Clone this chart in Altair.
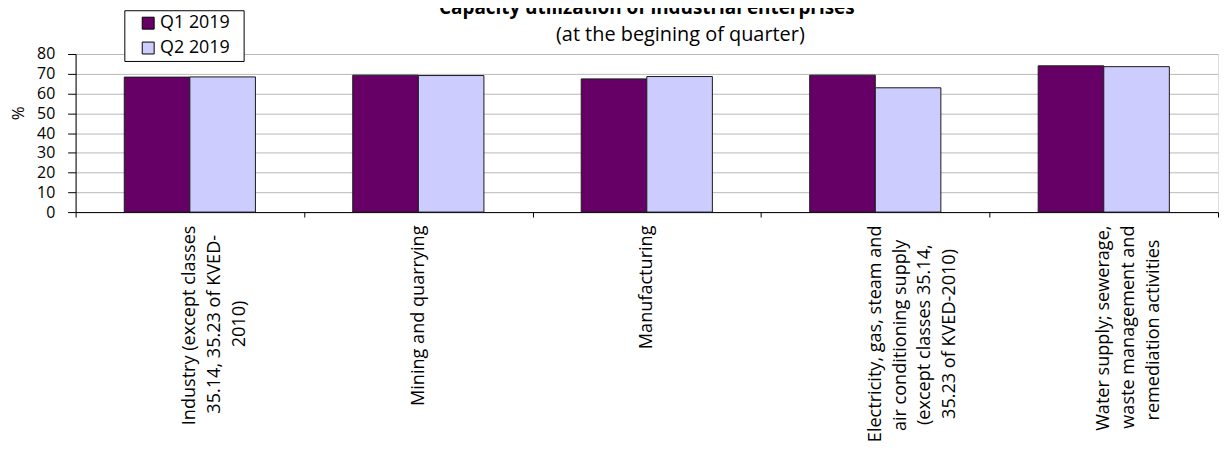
import altair as alt
import pandas as pd

categories = [
    "Industry (except classes 35.14, 35.23 of KVED-2010)",
    "Mining and quarrying",
    "Manufacturing",
    "Electricity, gas, steam and air conditioning supply (except classes 35.14, 35.23 of KVED-2010)",
    "Water supply; sewerage, waste management and remediation activities",
]
label_lines = [
    ["Industry (except classes", "35.14, 35.23 of KVED-", "2010)"],
    ["Mining and quarrying"],
    ["Manufacturing"],
    ["Electricity, gas, steam and", "air conditioning supply", "(except classes 35.14,", "35.23 of KVED-2010)"],
    ["Water supply; sewerage,", "waste management and", "remediation activities"],
]
series = ["Q1 2019", "Q2 2019"]
q1 = [68.3, 69.3, 67.4, 69.3, 74.0]
q2 = [68.4, 69.1, 68.6, 62.9, 73.6]
colors = ["#660066", "#CCCCFF"]

rows = []
for c, a, b in zip(categories, q1, q2):
    rows.append({"category": c, "series": series[0], "value": a})
    rows.append({"category": c, "series": series[1], "value": b})
df = pd.DataFrame(rows)

NB = "\u00a0"   # non-breaking space
ZW = "\u200b"   # zero-width char so that trimming keeps the spaces

# approximate advance widths of Open Sans (units per 2048 em), used only to
# centre the lines of each multi-line axis label like the original does
ADV = {" ": 532, "(": 608, ")": 608, ",": 500, "-": 659, ".": 545, ";": 545,
       "D": 1466, "E": 1147, "I": 551, "K": 1200, "M": 1825, "V": 1214, "W": 1855,
       "a": 1139, "c": 975, "d": 1255, "e": 1149, "f": 694, "g": 1122, "h": 1257,
       "i": 518, "k": 1075, "l": 518, "m": 1905, "n": 1257, "o": 1237, "p": 1255,
       "q": 1255, "r": 836, "s": 977, "t": 723, "u": 1257, "v": 1026, "w": 1593,
       "x": 1073, "y": 1028}


def adv(s):
    return sum(1171 if ch.isdigit() else ADV.get(ch, 1100) for ch in s)


def centred(lines):
    m = max(adv(s) for s in lines)
    out = []
    for s in lines:
        k = round((m - adv(s)) / 2 / ADV[" "])
        out.append(s + NB * k + ZW if k else s)
    return out


def js(s):
    return "'" + s.replace("\\", "\\\\").replace("'", "\\'") + "'"


expr = "''"
for c, lines in reversed(list(zip(categories, label_lines))):
    arr = "[" + ",".join(js(s) for s in centred(lines)) + "]"
    expr = f"datum.value == {js(c)} ? {arr} : ({expr})"

FONT = "Open Sans"

bars = alt.Chart(df).mark_bar(stroke="#1a1a1a", strokeWidth=1).encode(
    x=alt.X(
        "category:N",
        sort=categories,
        scale=alt.Scale(paddingInner=0, paddingOuter=0),
        axis=alt.Axis(
            title=None,
            labelAngle=270,
            labelAlign="right",
            labelBaseline="middle",
            labelExpr=expr,
            labelLineHeight=25,
            labelPadding=8,
            labelLimit=600,
            labelFont=FONT,
            labelFontSize=18.2,
            labelColor="black",
            tickBand="extent",
            tickSize=5,
            tickColor="black",
            domainColor="black",
            grid=False,
        ),
    ),
    xOffset=alt.XOffset(
        "series:N", sort=series, scale=alt.Scale(paddingInner=0, paddingOuter=0.742)
    ),
    y=alt.Y(
        "value:Q",
        scale=alt.Scale(domain=[0, 80]),
        axis=alt.Axis(
            values=list(range(0, 81, 10)),
            labelOverlap=False,
            title="%",
            titleFont=FONT,
            titleFontSize=17,
            titleFontWeight="normal",
            titleColor="black",
            titleAngle=270,
            titleX=-57,
            titleY=59,
            titleAlign="center",
            titleBaseline="middle",
            labelFont=FONT,
            labelFontSize=16,
            labelColor="black",
            labelPadding=13,
            tickSize=8,
            tickColor="black",
            domainColor="black",
            gridColor="#b8b8b8",
            gridWidth=1,
        ),
    ),
    color=alt.Color(
        "series:N",
        scale=alt.Scale(domain=series, range=colors),
        legend=alt.Legend(
            orient="none",
            legendX=49,
            legendY=-44,
            title=None,
            fillColor="white",
            strokeColor="black",
            padding=4,
            symbolType="square",
            symbolSize=144,
            symbolStrokeColor="black",
            symbolStrokeWidth=1,
            symbolOpacity=1,
            symbolOffset=11,
            labelOffset=3,
            rowPadding=7,
            labelFont=FONT,
            labelFontSize=18,
            labelColor="black",
            labelExpr="datum.label + '" + NB * 2 + ZW + "'",
        ),
    ),
)

chart = bars.properties(
    width=1149,
    height=159,
    autosize=alt.AutoSizeParams(type="none"),
    padding={"left": 68, "top": 45, "right": 1, "bottom": 233},
    title=alt.TitleParams(
        text="Capacity utilization of industrial enterprises",
        subtitle=ZW + NB * 13 + "(at the begining of quarter)",
        font=FONT,
        fontSize=19,
        fontWeight="bold",
        color="black",
        subtitleFont=FONT,
        subtitleFontSize=20,
        subtitleColor="black",
        anchor="middle",
        offset=-35,
        subtitlePadding=7,
    ),
).configure_view(stroke="#999999", strokeWidth=1).configure(background="white")

chart.save("out.html", embed_options={"renderer": "svg", "actions": False})
